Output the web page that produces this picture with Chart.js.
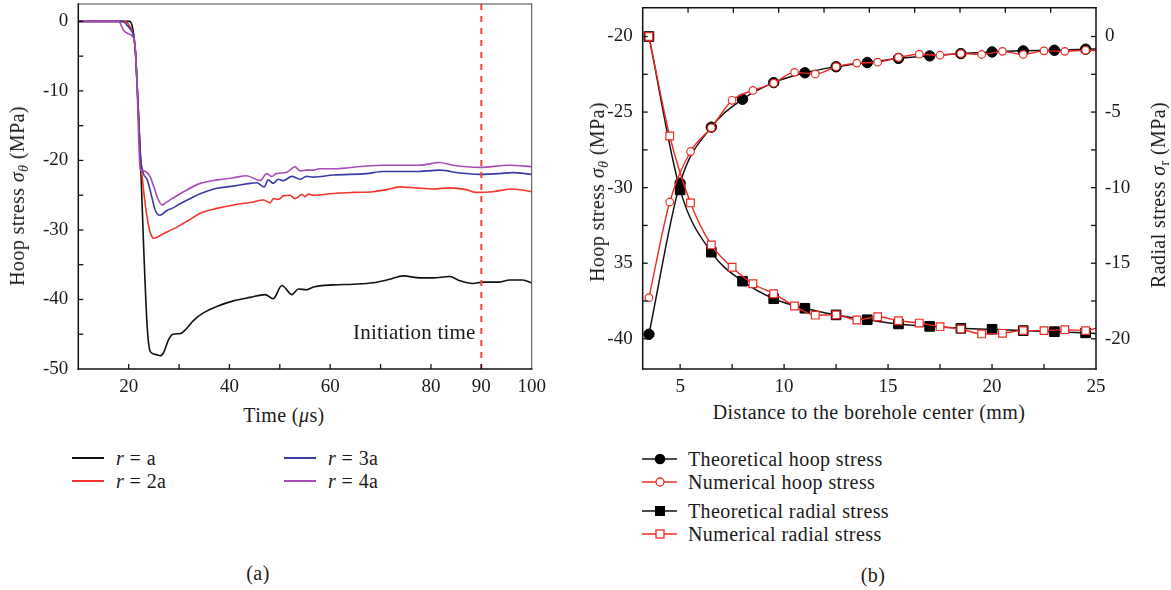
<!DOCTYPE html>
<html>
<head>
<meta charset="utf-8">
<script src="https://cdn.jsdelivr.net/npm/chart.js@4.4.1/dist/chart.umd.min.js"></script>
<style>
  html, body { margin: 0; padding: 0; background: #fff; }
  #fig { position: relative; width: 1171px; height: 590px; overflow: hidden;
         font-family: 'Liberation Serif', 'Times New Roman', serif; color: #1a1a1a; }
  #fig canvas { position: absolute; }
  .t { position: absolute; white-space: nowrap; font-size: 20px; line-height: 1; letter-spacing: 0.4px; }
  .ctr { transform: translate(-50%, -50%); }
  .rot { transform: translate(-50%, -50%) rotate(-90deg); }
  .lft { transform: translate(0, -50%); }
  .t sub { font-size: 0.7em; vertical-align: -0.3em; line-height: 0; }
  .leg { position: absolute; }
</style>
</head>
<body>
<div id="fig">
  <canvas id="timeChart" width="560" height="400" style="left:0;top:0;width:560px;height:400px"></canvas>
  <canvas id="distChart" width="581" height="400" style="left:590px;top:0;width:581px;height:400px"></canvas>

  <div class="t rot" style="left:17px;top:196px">Hoop stress <i>σ</i><sub><i>θ</i></sub> (MPa)</div>
  <div class="t ctr" style="left:284px;top:415px">Time (<i>μ</i>s)</div>
  <div class="t lft" style="left:353px;top:332px;font-size:21px;letter-spacing:0.2px">Initiation time</div>
  <div class="t ctr" style="left:258px;top:573px">(a)</div>

  <div class="t rot" style="left:597px;top:192px">Hoop stress <i>σ</i><sub><i>θ</i></sub> (MPa)</div>
  <div class="t rot" style="left:1158px;top:195px">Radial stress <i>σ</i><sub>r</sub> (MPa)</div>
  <div class="t ctr" style="left:869px;top:412px">Distance to the borehole center (mm)</div>
  <div class="t ctr" style="left:873px;top:575px">(b)</div>
  <div id="legends"></div>
</div>

<script>
// ---------- (a) hoop stress history at four radii ----------
const timeTicks = [20, 40, 60, 80, 90, 100];
const initiationTime = 90;

const tA  = [10, 20.2, 20.8, 21.3, 21.8, 22.3, 23.0, 23.7, 24.3, 25.3, 26.3, 26.95, 27.9, 28.8, 30.3, 31.2, 32.9, 34.9, 37.5, 40.8, 44.1, 47.1, 48.7, 50.4, 52.4, 53.7, 55.3, 56.7, 60.6, 64.6, 68.5, 71.8, 74.5, 77.8, 80.4, 83.7, 85.7, 88.3, 90.3, 93.6, 95.6, 98.2, 100];
const sA  = [0, 0, -1.0, -4.0, -11.0, -19.0, -33.0, -44.2, -47.5, -47.9, -48.1, -47.6, -45.8, -45.0, -44.9, -44.4, -43.0, -41.9, -41.0, -40.2, -39.7, -39.3, -39.9, -38.0, -39.3, -38.5, -38.6, -38.2, -37.9, -37.8, -37.6, -37.1, -36.6, -36.9, -36.9, -36.7, -37.3, -37.7, -37.5, -37.5, -37.2, -37.2, -37.6];

const t2A = [10, 19.3, 20.2, 20.8, 21.3, 21.8, 22.3, 22.7, 23.2, 23.8, 24.4, 25.0, 26.0, 27.6, 30.3, 31.9, 34.2, 37.5, 40.8, 44.1, 46.8, 48.1, 48.7, 49.7, 50.7, 52.0, 53.0, 54.4, 55.0, 55.7, 56.7, 60.6, 64.6, 68.5, 71.2, 73.8, 77.1, 80.4, 83.7, 87.0, 89.0, 92.3, 96.2, 100];
const s2A = [0, 0, -0.7, -1.6, -4.0, -11.0, -19.0, -22.5, -25.8, -28.8, -30.6, -31.2, -30.9, -30.3, -29.3, -28.6, -27.6, -26.9, -26.4, -26.05, -25.7, -26.1, -25.5, -25.6, -25.1, -25.0, -25.5, -24.9, -25.2, -24.85, -25.0, -24.75, -24.6, -24.5, -24.2, -23.8, -23.95, -24.1, -23.95, -24.2, -24.6, -24.5, -24.1, -24.5];

const t3A = [10, 18.9, 19.6, 20.4, 21.0, 21.4, 21.8, 22.3, 22.8, 23.7, 24.5, 25.3, 26.2, 27.6, 28.6, 30.3, 32.2, 34.2, 37.5, 40.8, 44.1, 45.4, 46.9, 47.7, 48.7, 49.7, 50.7, 52.4, 54.0, 55.3, 56.7, 60.6, 67.2, 70.5, 77.1, 81.7, 85.7, 89.6, 93.6, 96.2, 100];
const s3A = [0, 0, -0.5, -1.2, -2.2, -5.0, -11.0, -19.0, -21.6, -22.8, -25.0, -27.2, -27.9, -27.2, -26.9, -26.2, -25.5, -24.8, -24.0, -23.7, -23.3, -23.2, -23.8, -22.8, -23.3, -22.7, -22.9, -22.3, -22.7, -22.3, -22.4, -22.1, -21.9, -21.6, -21.6, -21.4, -21.8, -22.0, -21.9, -21.75, -22.0];

const t4A = [10, 18.0, 19.0, 20.0, 20.7, 21.3, 21.7, 22.0, 22.3, 23.0, 23.7, 24.3, 25.0, 25.8, 26.6, 27.5, 28.6, 30.9, 34.2, 37.5, 40.8, 43.4, 46.1, 47.4, 48.4, 49.3, 51.4, 53.0, 54.0, 55.3, 56.7, 57.8, 60.6, 67.2, 70.5, 77.8, 81.7, 84.4, 89.6, 95.6, 100];
const s4A = [0, 0, -1.3, -1.8, -2.1, -3.7, -10.0, -17.2, -21.3, -21.5, -21.8, -22.4, -23.8, -25.5, -26.4, -26.0, -25.5, -24.5, -23.3, -22.8, -22.5, -22.2, -22.9, -21.9, -22.3, -21.9, -21.7, -20.9, -21.5, -21.4, -21.4, -21.2, -21.2, -20.8, -20.7, -20.7, -20.3, -20.7, -21.0, -20.7, -20.9];

const radiusLabels = ['r = a', 'r = 2a', 'r = 3a', 'r = 4a'];
const radiusColors = ['#111111', '#f2362b', '#3b3ba6', '#a64bb8'];

// ---------- (b) stress distribution around the borehole ----------
const distTicks = [5, 10, 15, 20, 25];
const hoopTickValues = [-40, -35, -30, -25, -20];
const hoopTickText = ['-40', '35', '-30', '-25', '-20'];
const radialTickValues = [-20, -15, -10, -5, 0];

const distTheory   = [3.5, 5, 6.5, 8, 9.5, 11, 12.5, 14, 15.5, 17, 18.5, 20, 21.5, 23, 24.5, 25];
const hoopTheory   = [-39.7, -29.7, -26.0, -24.15, -23.05, -22.4, -22.0, -21.72, -21.45, -21.28, -21.13, -21.02, -20.95, -20.91, -20.84, -20.83];
const radialTheory = [0, -10.15, -14.27, -16.19, -17.35, -17.98, -18.42, -18.74, -19.02, -19.18, -19.31, -19.37, -19.46, -19.53, -19.61, -19.66];

const distNum   = [3.5, 4.5, 5.5, 6.5, 7.5, 8.5, 9.5, 10.5, 11.5, 12.5, 13.5, 14.5, 15.5, 16.5, 17.5, 18.5, 19.5, 20.5, 21.5, 22.5, 23.5, 24.5, 25];
const hoopNum   = [-37.28, -30.95, -27.61, -26.04, -24.22, -23.57, -23.09, -22.37, -22.48, -22.0, -21.76, -21.7, -21.39, -21.17, -21.24, -21.13, -21.19, -20.98, -21.19, -20.95, -20.98, -20.91, -20.93];
const radialNum = [0, -6.58, -11.01, -13.79, -15.27, -16.36, -17.02, -17.83, -18.44, -18.42, -18.76, -18.54, -18.81, -18.96, -19.2, -19.35, -19.68, -19.64, -19.46, -19.46, -19.4, -19.46, -19.31];

const seriesLabels = ['Theoretical hoop stress', 'Numerical hoop stress', 'Theoretical radial stress', 'Numerical radial stress'];
const theoryColor = '#111111';
const numColor = '#ee2a22';

// ---------- shared helpers ----------
const FONT = "'Liberation Serif', 'Times New Roman', serif";
const tickFont = { family: FONT, size: 19 };
const zip = (xs, ys) => xs.map((x, i) => ({ x, y: ys[i] }));

// Fix an axis box to a given thickness and drop the label overhang padding,
// so the plot area lands exactly where the layout wants it.
const fixBox = (size) => (s) => {
  if (s.isHorizontal()) s.height = size; else s.width = size;
  s.paddingTop = 0; s.paddingBottom = 0; s.paddingLeft = 0; s.paddingRight = 0;
};

// Draws the plot frame and inward tick marks from each scale's ticks.
const framePlugin = {
  id: 'frame',
  afterDatasetsDraw(chart, args, o) {
    const { ctx, chartArea: a } = chart;
    ctx.save();
    ctx.lineCap = 'square';
    const seg = (x1, y1, x2, y2, st) => {
      ctx.strokeStyle = st.color; ctx.lineWidth = st.width;
      ctx.beginPath(); ctx.moveTo(x1, y1); ctx.lineTo(x2, y2); ctx.stroke();
    };
    seg(a.left, a.top, a.right, a.top, o.top);
    seg(a.right, a.top, a.right, a.bottom, o.right);
    seg(a.left, a.bottom, a.right, a.bottom, o.bottom);
    seg(a.left, a.top, a.left, a.bottom, o.left);
    ctx.lineCap = 'butt';
    o.marks.forEach(m => {
      const s = chart.scales[m.scale];
      s.ticks.forEach(tk => {
        const p = s.getPixelForValue(tk.value);
        ctx.strokeStyle = m.color; ctx.lineWidth = m.width;
        ctx.beginPath();
        if (m.side === 'bottom' || m.side === 'top') {
          if (p <= a.left + 1 || p >= a.right - 1) return;
          const y0 = m.side === 'bottom' ? a.bottom : a.top;
          const dir = m.side === 'bottom' ? -1 : 1;
          ctx.moveTo(p, y0); ctx.lineTo(p, y0 + dir * o.len);
        } else {
          if (p <= a.top + 1 || p >= a.bottom - 1) return;
          const x0 = m.side === 'left' ? a.left : a.right;
          const dir = m.side === 'left' ? 1 : -1;
          ctx.moveTo(x0, p); ctx.lineTo(x0 + dir * o.len, p);
        }
        ctx.stroke();
      });
    });
    ctx.restore();
  }
};

const baseOptions = {
  responsive: false,
  animation: false,
  devicePixelRatio: 1,
  events: [],
  plugins: { legend: { display: false }, tooltip: { enabled: false } },
};

// ---------- chart (a) ----------
const timeSeries = [[t4A, s4A, 3], [t3A, s3A, 2], [t2A, s2A, 1], [tA, sA, 0]];
new Chart(document.getElementById('timeChart'), {
  type: 'line',
  data: {
    datasets: [
      {
        data: [{ x: initiationTime, y: 2.5 }, { x: initiationTime, y: -50 }],
        borderColor: '#f0453d', borderWidth: 2, borderDash: [6, 6], pointRadius: 0, tension: 0
      },
      ...timeSeries.map(([t, s, k]) => ({
        label: radiusLabels[k],
        data: zip(t, s),
        borderColor: radiusColors[k],
        borderWidth: 1.6,
        pointRadius: 0,
        cubicInterpolationMode: 'monotone'
      }))
    ]
  },
  options: {
    ...baseOptions,
    layout: { padding: { left: 0, top: 4, right: 28.3, bottom: 0 } },
    plugins: {
      ...baseOptions.plugins,
      frame: {
        len: 5,
        left: { color: '#111', width: 1.5 }, bottom: { color: '#111', width: 1.5 },
        top: { color: '#444', width: 1 }, right: { color: '#444', width: 1 },
        marks: [
          { scale: 'x', side: 'bottom', color: '#111', width: 1.3 },
          { scale: 'y', side: 'left', color: '#111', width: 1.3 }
        ]
      }
    },
    scales: {
      x: {
        type: 'linear', min: 10, max: 100,
        grid: { display: false, drawTicks: false }, border: { display: false },
        ticks: {
          stepSize: 10, autoSkip: false, maxRotation: 0, includeBounds: false, padding: 7,
          font: tickFont, color: '#1a1a1a',
          callback: v => timeTicks.includes(v) ? String(v) : ''
        },
        afterFit: fixBox(31)
      },
      y: {
        type: 'linear', min: -50, max: 2.5,
        grid: { display: false, drawTicks: false }, border: { display: false },
        ticks: {
          stepSize: 5, autoSkip: false, includeBounds: false, padding: 10,
          font: tickFont, color: '#1a1a1a',
          callback: v => (v % 10 === 0) ? String(v) : ''
        },
        afterFit: fixBox(78.3)
      }
    }
  },
  plugins: [framePlugin]
});

// ---------- chart (b) ----------
const lastHidden = (xs, r) => xs.map(x => x > 24.6 ? 0 : r);
new Chart(document.getElementById('distChart'), {
  type: 'line',
  data: {
    datasets: [
      {
        label: seriesLabels[1], data: zip(distNum, hoopNum), yAxisID: 'y',
        borderColor: numColor, borderWidth: 1.4, cubicInterpolationMode: 'monotone',
        pointStyle: 'circle', pointRadius: lastHidden(distNum, 3.8),
        pointBackgroundColor: '#fff', pointBorderColor: numColor, pointBorderWidth: 1.2
      },
      {
        label: seriesLabels[3], data: zip(distNum, radialNum), yAxisID: 'y2',
        borderColor: numColor, borderWidth: 1.4, cubicInterpolationMode: 'monotone',
        pointStyle: 'rect', pointRadius: lastHidden(distNum, 5.4),
        pointBackgroundColor: '#fff', pointBorderColor: numColor, pointBorderWidth: 1.2
      },
      {
        label: seriesLabels[0], data: zip(distTheory, hoopTheory), yAxisID: 'y',
        borderColor: theoryColor, borderWidth: 1.5, cubicInterpolationMode: 'monotone',
        pointStyle: 'circle', pointRadius: lastHidden(distTheory, 5.2),
        pointBackgroundColor: '#000', pointBorderColor: '#000', pointBorderWidth: 1
      },
      {
        label: seriesLabels[2], data: zip(distTheory, radialTheory), yAxisID: 'y2',
        borderColor: theoryColor, borderWidth: 1.5, cubicInterpolationMode: 'monotone',
        pointStyle: 'rect', pointRadius: lastHidden(distTheory, 6.8),
        pointBackgroundColor: '#000', pointBorderColor: '#000', pointBorderWidth: 1
      }
    ]
  },
  options: {
    ...baseOptions,
    layout: { padding: { left: 0, top: 4, right: 0, bottom: 0 } },
    plugins: {
      ...baseOptions.plugins,
      frame: {
        len: 5,
        left: { color: '#111', width: 1.5 }, bottom: { color: '#111', width: 1.5 },
        top: { color: '#111', width: 1.5 }, right: { color: '#111', width: 1.5 },
        marks: [
          { scale: 'x', side: 'bottom', color: '#111', width: 1.3 },
          { scale: 'x2', side: 'top', color: '#111', width: 1.3 },
          { scale: 'y', side: 'left', color: '#111', width: 1.3 },
          { scale: 'y2', side: 'right', color: '#111', width: 1.3 }
        ]
      }
    },
    scales: {
      x: {
        type: 'linear', position: 'bottom', min: 3.2, max: 25,
        grid: { display: false, drawTicks: false }, border: { display: false },
        ticks: {
          stepSize: 2.5, autoSkip: false, maxRotation: 0, includeBounds: false, padding: 7,
          font: tickFont, color: '#1a1a1a',
          callback: v => distTicks.includes(v) ? String(v) : ''
        },
        afterFit: fixBox(31)
      },
      x2: {
        type: 'linear', position: 'top', min: 0, max: 10,
        grid: { display: false, drawTicks: false }, border: { display: false },
        ticks: { display: false, stepSize: 1 },
        afterFit: fixBox(0)
      },
      y: {
        type: 'linear', position: 'left', min: -42, max: -18.1,
        grid: { display: false, drawTicks: false }, border: { display: false },
        ticks: {
          stepSize: 2.5, autoSkip: false, includeBounds: false, padding: 10,
          font: tickFont, color: '#1a1a1a',
          callback: v => { const i = hoopTickValues.indexOf(v); return i >= 0 ? hoopTickText[i] : ''; }
        },
        afterFit: fixBox(52.7)
      },
      y2: {
        type: 'linear', position: 'right', min: -22, max: 1.9,
        grid: { display: false, drawTicks: false }, border: { display: false },
        ticks: {
          stepSize: 2.5, autoSkip: false, includeBounds: false, padding: 9,
          font: tickFont, color: '#1a1a1a',
          callback: v => radialTickValues.includes(v) ? String(v) : ''
        },
        afterFit: fixBox(75)
      }
    }
  },
  plugins: [framePlugin]
});

// ---------- legends ----------
const legendRoot = document.getElementById('legends');
const addText = (html, x, y) => {
  const d = document.createElement('div');
  d.className = 't lft'; d.style.left = x + 'px'; d.style.top = y + 'px';
  d.innerHTML = html; legendRoot.appendChild(d);
};
const addIcon = (svgInner, x, y) => {
  const d = document.createElement('div');
  d.className = 'leg'; d.style.left = x + 'px'; d.style.top = (y - 8) + 'px';
  d.innerHTML = '<svg width="36" height="16" xmlns="http://www.w3.org/2000/svg">' + svgInner + '</svg>';
  legendRoot.appendChild(d);
};
const italicR = s => s.replace(/^r/, '<i>r</i>');

// (a): two columns, two rows each
const legendA = [[0, 72, 457.7], [1, 72, 480.7], [2, 284, 457.7], [3, 284, 480.7]];
legendA.forEach(([k, x, y]) => {
  addIcon('<line x1="0" y1="8" x2="32" y2="8" stroke="' + radiusColors[k] + '" stroke-width="2"/>', x, y);
  addText(italicR(radiusLabels[k]), x + 44, y);
});

// (b): line + marker swatches
const legendB = [
  [0, 459.3, theoryColor, '<circle cx="18" cy="8" r="5.3" fill="#000"/>'],
  [1, 482.3, numColor, '<circle cx="18" cy="8" r="4" fill="#fff" stroke="' + numColor + '" stroke-width="1.3"/>'],
  [2, 510.7, theoryColor, '<rect x="13" y="3" width="10" height="10" fill="#000"/>'],
  [3, 534, numColor, '<rect x="14" y="4" width="8" height="8" fill="#fff" stroke="' + numColor + '" stroke-width="1.3"/>']
];
legendB.forEach(([k, y, col, mark]) => {
  addIcon('<line x1="0" y1="8" x2="35" y2="8" stroke="' + col + '" stroke-width="1.6"/>' + mark, 642, y);
  addText(seriesLabels[k], 688, y);
});
</script>
</body>
</html>
